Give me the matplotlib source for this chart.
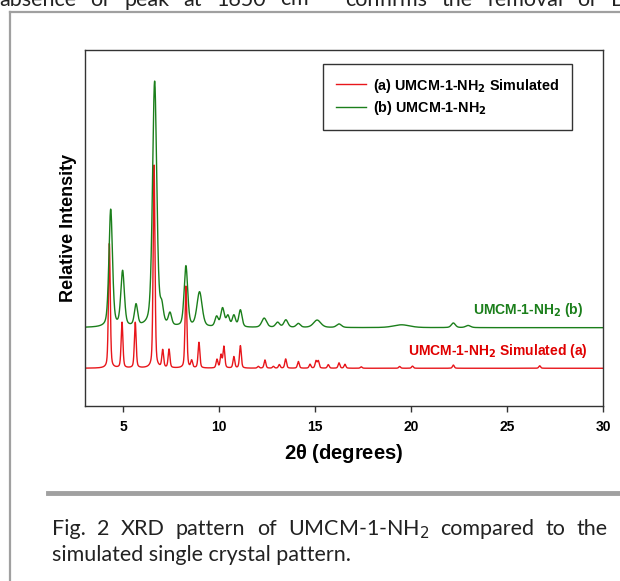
#XRD pattern of UMCM-1-NH2 vs simulated pattern
import numpy as np
import matplotlib.pyplot as plt
from matplotlib.lines import Line2D

# peak positions (2theta), heights above baseline and widths
green_pos = [4.34, 4.96, 5.66, 6.63, 7.0, 7.43, 8.26, 8.97, 9.86, 10.17, 10.45, 10.76, 11.1,
             12.34, 13.04, 13.47, 14.12, 15.1, 16.24, 19.5, 22.2, 22.97]
green_hgt = [33.0, 15.5, 6.0, 69.0, 4.5, 3.4, 17.0, 9.8, 2.8, 5.2, 3.0, 3.2, 4.8,
             2.6, 1.4, 2.1, 1.1, 2.1, 1.0, 0.8, 1.3, 0.6]
green_wid = [0.22, 0.22, 0.2, 0.26, 0.2, 0.2, 0.22, 0.32, 0.2, 0.22, 0.2, 0.2, 0.2,
             0.3, 0.25, 0.25, 0.25, 0.45, 0.3, 1.0, 0.25, 0.3]
green_base = 22.0

red_pos = [4.27, 4.93, 5.62, 6.6, 7.05, 7.38, 8.26, 8.56, 8.94, 9.88, 10.09, 10.24, 10.76, 11.1,
           12.03, 12.38, 12.82, 13.13, 13.46, 14.12, 14.73, 15.04, 15.16, 15.68, 16.24, 16.55,
           17.4, 19.4, 20.07, 22.2, 26.7]
red_hgt = [35.0, 12.8, 12.8, 57.0, 4.9, 5.2, 23.0, 2.0, 7.2, 2.4, 3.6, 6.0, 3.2, 6.3,
           0.5, 2.3, 0.5, 1.0, 2.6, 1.9, 1.1, 2.0, 2.0, 1.0, 1.5, 1.1,
           0.4, 0.5, 0.6, 0.9, 0.7]
red_wid = 0.11
red_base = 10.6

xticks = [5, 10, 15, 20, 25, 30]


def pattern(x, pos, hgt, wid, base):
    y = np.full_like(x, base)
    wid = np.broadcast_to(wid, len(pos))
    for p, h, w in zip(pos, hgt, wid):
        g = np.exp(-4 * np.log(2) * (x - p) ** 2 / w ** 2)
        l = 1 / (1 + 4 * (x - p) ** 2 / w ** 2)
        y += h * (0.6 * g + 0.4 * l)
    return y


x = np.linspace(3, 30, 6000)
y_green = pattern(x, green_pos, green_hgt, green_wid, green_base)
y_red = pattern(x, red_pos, red_hgt, red_wid, red_base)

plt.rcParams['font.family'] = ['Liberation Sans', 'DejaVu Sans']
fig = plt.figure(figsize=(6.2, 5.81), dpi=100)
ax = fig.add_axes([85 / 620, 1 - 406 / 581, 518 / 620, 356 / 581])

red_c = '#e8161b'
green_c = '#1b7f1b'
ax.plot(x, y_red, color=red_c, lw=1.0)
ax.plot(x, y_green, color=green_c, lw=1.0)

ax.set_xlim(3, 30)
ax.set_ylim(0, 100)
ax.set_yticks([])
ax.set_xticks(xticks)
ax.set_xticklabels([str(t) for t in xticks], fontweight='bold', fontsize=10)
ax.tick_params(axis='x', direction='out', length=4, width=1, color='#333333', pad=6)
for s in ax.spines.values():
    s.set_color('#333333')
    s.set_linewidth(1.0)

ax.set_xlabel(r'2$\mathregular{\theta}$ (degrees)', fontsize=14.5, fontweight='bold', labelpad=6)
ax.set_ylabel('Relative Intensity', fontsize=13, fontweight='bold', labelpad=6)

ax.text(26.1, 27, r'UMCM-1-NH$_\mathbf{2}$ (b)', color=green_c, fontsize=10,
        fontweight='bold', ha='center', va='center')
ax.text(24.5, 15.5, r'UMCM-1-NH$_\mathbf{2}$ Simulated (a)', color='#e00000', fontsize=10,
        fontweight='bold', ha='center', va='center')

handles = [Line2D([], [], color=red_c, lw=1.0), Line2D([], [], color=green_c, lw=1.0)]
leg = ax.legend(handles, [r'(a) UMCM-1-NH$_\mathbf{2}$ Simulated', r'(b) UMCM-1-NH$_\mathbf{2}$'],
                loc='upper left', bbox_to_anchor=(0.459, 0.962), borderaxespad=0,
                prop={'weight': 'bold', 'size': 10.4}, handlelength=2.1, handletextpad=0.45,
                labelspacing=0.3, borderpad=0.9, fancybox=False, framealpha=1)
leg.get_frame().set_edgecolor('#333333')
leg.get_frame().set_linewidth(1.0)

# page bits around the figure: frame, rule, caption
fig.add_artist(Line2D([10 / 620, 10 / 620], [0, 1 - 12 / 581], color='#a0a0a0', lw=1.6))
fig.add_artist(Line2D([10 / 620, 1], [1 - 12 / 581, 1 - 12 / 581], color='#a0a0a0', lw=1.6))
fig.add_artist(Line2D([48 / 620, 1], [1 - 493 / 581, 1 - 493 / 581], color='#a0a0a0', lw=3.5))

cap_font = {'family': ['Lato', 'DejaVu Sans'], 'size': 15.5, 'color': '#222222'}
fig.canvas.draw()
r = fig.canvas.get_renderer()


def justified(words, y, x0, x1):
    ts = [fig.text(0, y, w, va='baseline', **cap_font) for w in words]
    ws = [t.get_window_extent(r).width for t in ts]
    gap = (x1 - x0 - sum(ws)) / (len(ws) - 1)
    xp = x0
    for t, w in zip(ts, ws):
        t.set_x(xp / 620)
        xp += w + gap


justified(['Fig.', '2', 'XRD', 'pattern', 'of', 'UMCM-1-NH$_2$', 'compared', 'to', 'the'],
          1 - 535 / 581, 52, 608)
fig.text(52 / 620, 1 - 561 / 581, 'simulated single crystal pattern.', va='baseline', **cap_font)
justified(['absence', 'of', 'peak', 'at', '1650', 'cm$^{-1}$', 'confirms', 'the', 'removal', 'of', 'DE'],
          1 - 6 / 581, -1, 640)

fig.savefig('out.png', dpi=100)
